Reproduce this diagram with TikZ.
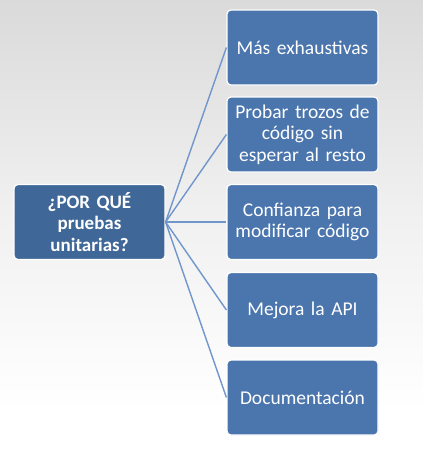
\documentclass[tikz,border=0pt]{standalone}
\usepackage{fontspec}
\setmainfont{Carlito}
\definecolor{boxblue}{HTML}{4A75AD}
\definecolor{rootblue}{HTML}{3F6797}
\definecolor{linkblue}{HTML}{7196CB}
\definecolor{bgtop}{HTML}{DADADA}
\begin{document}
\begin{tikzpicture}[x=1pt,y=1pt,
  leaf/.style={draw=white, line width=1.2pt, fill=boxblue, rounded corners=4pt,
    minimum width=151pt, minimum height=75pt, text width=146pt, align=center,
    text=white, font=\fontsize{19.5}{21.7}\selectfont, inner sep=0pt},
  root/.style={leaf, fill=rootblue, font=\fontsize{19}{21.7}\selectfont\bfseries},
  link/.style={draw=linkblue, line width=1.4pt}]
\fill[white] (0,0) rectangle (423,-456);
\shade[top color=bgtop, bottom color=white, middle color=gray!12] (0,0) rectangle (423,-410);
\useasboundingbox (0,0) rectangle (423,-456);
\node[root] (r) at (89.5,-222) {¿POR QUÉ\\pruebas\\unitarias?};
\node[leaf] (a) at (302.5,-47.5) {Más exhaustivas};
\node[leaf] (b) at (302.5,-134.5) {Probar trozos de\\código sin\\esperar al resto};
\node[leaf] (c) at (302.5,-222) {Confianza para\\modificar código};
\node[leaf] (d) at (302.5,-310) {Mejora la API};
\node[leaf] (e) at (302.5,-397.5) {Documentación};
\foreach \t in {a,b,c,d,e} \draw[link] (r.east) -- (\t.west);
\end{tikzpicture}
\end{document}
